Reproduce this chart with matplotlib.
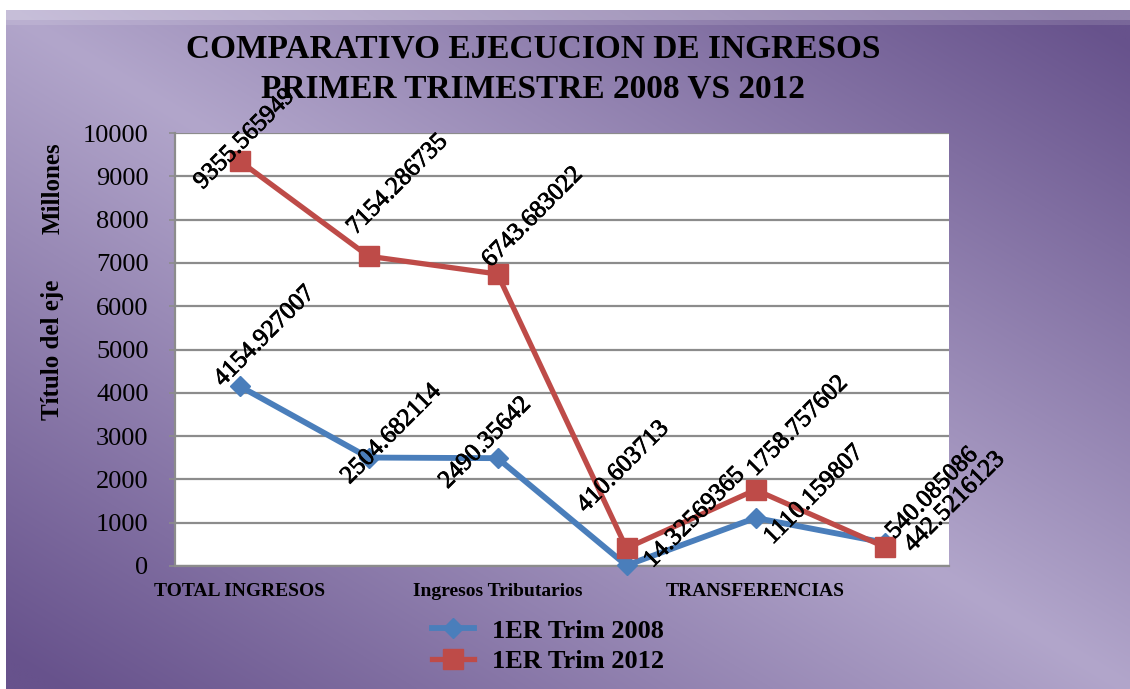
import numpy as np
import matplotlib
matplotlib.use("Agg")
import matplotlib.pyplot as plt
import matplotlib.patheffects as pe
from matplotlib.colors import to_rgb

# ---- data -------------------------------------------------------------
categories = ["TOTAL INGRESOS", "", "Ingresos Tributarios", "", "TRANSFERENCIAS", ""]
trim_2008 = [4154.927007, 2504.682114, 2490.35642, 14.32569365, 1110.159807, 540.085086]
trim_2012 = [9355.565949, 7154.286735, 6743.683022, 410.603713, 1758.757602, 442.5216123]
series_names = ["1ER Trim 2008", "1ER Trim 2012"]
title_lines = ["COMPARATIVO EJECUCION DE INGRESOS", "PRIMER TRIMESTRE 2008 VS 2012"]
y_title = "Título del eje"
y_units = "Millones"

# ---- layout / style ---------------------------------------------------
W, H = 1130, 689
SERIF = ["Liberation Serif", "DejaVu Serif"]
BLUE = "#4a7ebb"
RED = "#be4b48"
GRID = "#8c8c8c"

# data-label offsets from each marker, in pixels (dx right, dy down)
offsets_2008 = [(-17, 1), (-19, 27), (-50, 31), (26, 3), (17, 27), (10, -3)]
offsets_2012 = [(-37, 29), (-13, -21), (-7, -6), (-41, -35), (0, -13), (28, 6)]

fig = plt.figure(figsize=(W / 100, H / 100), dpi=100)
fig.patch.set_facecolor("white")

# purple diagonal gradient backdrop
bg = fig.add_axes([6 / W, 0, 1 - 6 / W, 1 - 10 / H], zorder=0)
bg.set_axis_off()
gx = np.linspace(0, 1, 600)
gy = np.linspace(0, 1, 400)
GX, GY = np.meshgrid(gx, gy)
t = np.clip(np.abs(GX - GY) * 1.05, 0, 1)[..., None]
light = np.array(to_rgb("#b2a6cb"))
dark = np.array(to_rgb("#67528c"))
img = light * (1 - t) + dark * t
bg.imshow(img, aspect="auto", extent=(0, 1, 0, 1), origin="upper",
          interpolation="bilinear")
bg.axhspan(0.986, 1.0, color="white", alpha=0.28, lw=0)
bg.axhspan(0.978, 0.986, color="white", alpha=0.12, lw=0)
bg.set_xlim(0, 1)
bg.set_ylim(0, 1)

# plot area
ax = fig.add_axes([175 / W, 1 - 566 / H, (949 - 175) / W, (566 - 133) / H], zorder=1)
ax.set_facecolor("white")
xs = np.arange(len(categories))

ax.plot(xs, trim_2008, color=BLUE, lw=4.2, marker="D", ms=10,
        label=series_names[0], zorder=3, clip_on=False)
ax.plot(xs, trim_2012, color=RED, lw=3.8, marker="s", ms=14,
        label=series_names[1], zorder=4, clip_on=False)

ax.set_xlim(-0.5, len(categories) - 0.5)
ax.set_ylim(0, 10000)
ax.set_yticks(np.arange(0, 10001, 1000))
ax.set_xticks(xs)
ax.set_xticklabels(categories)
ax.grid(axis="y", color=GRID, lw=1.6)
ax.set_axisbelow(True)

for side in ("top", "right"):
    ax.spines[side].set_visible(False)
for side in ("left", "bottom"):
    ax.spines[side].set_color(GRID)
    ax.spines[side].set_linewidth(1.6)

ax.tick_params(axis="y", length=4, width=1.2, color=GRID, pad=15)
ax.tick_params(axis="x", length=0, pad=12)
for lab in ax.get_yticklabels():
    lab.set_fontfamily(SERIF)
    lab.set_fontsize(19)
for lab in ax.get_xticklabels():
    lab.set_fontfamily(SERIF)
    lab.set_fontsize(14)
    lab.set_fontweight("bold")

# value labels
heavier = [pe.withStroke(linewidth=0.6, foreground="black")]
for vals, offs in ((trim_2008, offsets_2008), (trim_2012, offsets_2012)):
    for xi, v, (dx, dy) in zip(xs, vals, offs):
        ax.annotate(f"{v}", (xi, v), xytext=(dx * 0.72, -dy * 0.72),
                    textcoords="offset points", rotation=45,
                    rotation_mode="anchor", ha="left", va="baseline",
                    fontsize=18, family=SERIF, color="black",
                    annotation_clip=False, zorder=6, path_effects=heavier)

# axis title pieces
fig.text(53 / W, 1 - 350 / H, y_title, rotation=90, ha="center", va="center",
         fontsize=18, fontweight="bold", family=SERIF)
fig.text(53 / W, 1 - 188 / H, y_units, rotation=90, ha="center", va="center",
         fontsize=18, fontweight="bold", family=SERIF)

# chart title
fig.text(533 / W, 1 - 57 / H, title_lines[0], ha="center", va="baseline",
         fontsize=24, fontweight="bold", family=SERIF)
fig.text(533 / W, 1 - 97 / H, title_lines[1], ha="center", va="baseline",
         fontsize=24, fontweight="bold", family=SERIF)

# legend
ax.legend(loc="upper center", bbox_to_anchor=(548 / W, 1 - 606 / H),
          bbox_transform=fig.transFigure, frameon=False,
          prop={"family": SERIF, "weight": "bold", "size": 19},
          handlelength=1.6, handletextpad=0.7, labelspacing=0.25,
          borderpad=0, numpoints=1)

fig.savefig("out.png", dpi=100)
